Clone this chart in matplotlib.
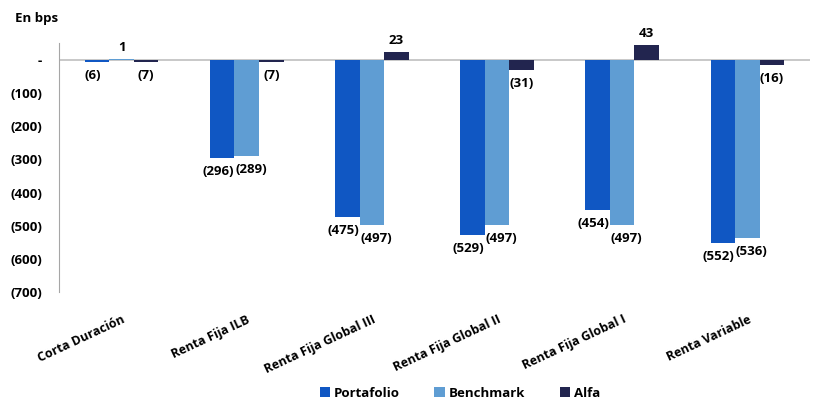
import matplotlib.pyplot as plt
import numpy as np

categorias = ['Corta Duración', 'Renta Fija ILB', 'Renta Fija Global III',
              'Renta Fija Global II', 'Renta Fija Global I', 'Renta Variable']
portafolio = [-6, -296, -475, -529, -454, -552]
benchmark = [1, -289, -497, -497, -497, -536]
alfa = [-7, -7, 23, -31, 43, -16]
yticks = [0, -100, -200, -300, -400, -500, -600, -700]

plt.rcParams['font.family'] = ['Open Sans', 'DejaVu Sans']
plt.rcParams['font.weight'] = 'bold'

def fmt(v):
    if v == 0:
        return '-'
    if v < 0:
        return '(%d)' % abs(v)
    return '%d' % v

fig = plt.figure(figsize=(8.14, 4.03), dpi=100)
ax = fig.add_axes([0.0725, 0.275, 0.9225, 0.618])

x = np.arange(len(categorias))
w = 0.196
series = [('Portafolio', portafolio, '#1057c3', -3),
          ('Benchmark', benchmark, '#5f9dd3', 3),
          ('Alfa', alfa, '#22254f', 0)]
for i, (nombre, vals, col, dx) in enumerate(series):
    pos = x + (i - 1) * w
    ax.bar(pos, vals, w, color=col, label=nombre)
    for p, v in zip(pos, vals):
        if v < 0:
            ax.annotate(fmt(v), (p, v), xytext=(dx, -5), textcoords='offset points',
                        ha='center', va='top', fontsize=9.5, fontweight='bold')
        else:
            ax.annotate(fmt(v), (p, v), xytext=(0, 4), textcoords='offset points',
                        ha='center', va='bottom', fontsize=9.5, fontweight='bold')

ax.axhline(0, color='#bfbfbf', lw=1.2, zorder=0)
ax.set_xlim(-0.5, len(categorias) - 0.5)
ax.set_ylim(-700, 50)
ax.set_yticks(yticks)
ax.set_yticklabels([fmt(v) for v in yticks], fontsize=9.5, fontweight='bold')
ax.tick_params(axis='y', length=0, pad=12)
ax.set_xticks(x)
ax.set_xticklabels(categorias, rotation=25, ha='right', rotation_mode='anchor',
                   fontsize=9, fontweight='bold')
ax.tick_params(axis='x', length=0, pad=15)
for s in ['top', 'right', 'bottom']:
    ax.spines[s].set_visible(False)
ax.spines['left'].set_color('#a6a6a6')

fig.text(0.018, 0.955, 'En bps', fontsize=9.5, fontweight='bold', va='center')
fig.legend(loc='lower center', bbox_to_anchor=(0.565, -0.022), ncol=3, frameon=False,
           fontsize=9.5, handlelength=0.8, handleheight=0.8, handletextpad=0.3,
           columnspacing=2.6)

fig.savefig('out.png', dpi=100)
